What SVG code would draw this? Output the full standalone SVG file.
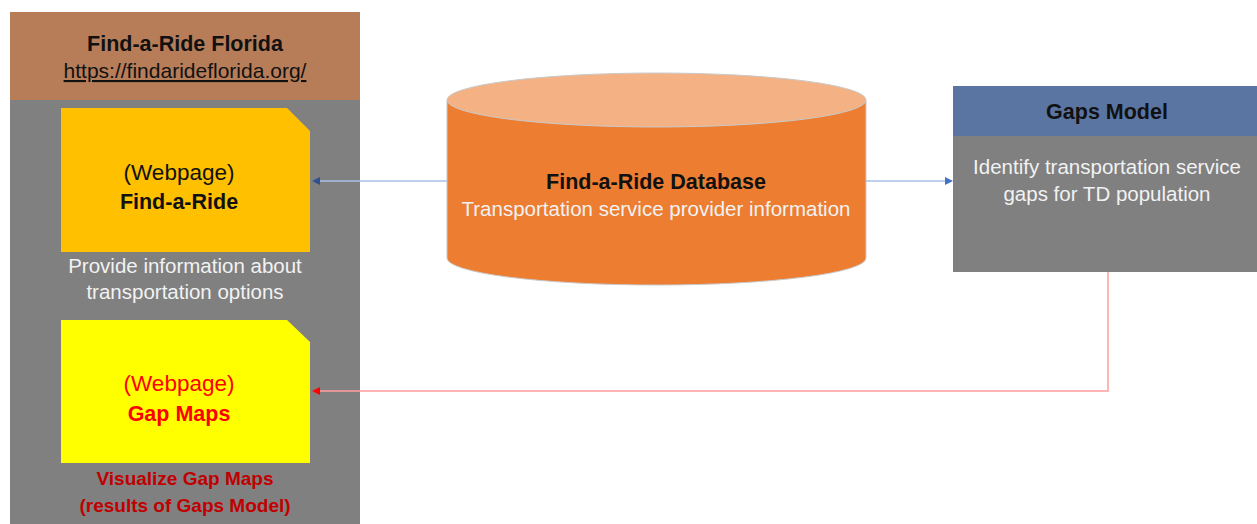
<svg xmlns="http://www.w3.org/2000/svg" width="1257" height="524" viewBox="0 0 1257 524">
<defs>
<style>
text{font-family:"Liberation Sans",Arial,sans-serif;text-anchor:middle}
.b{font-weight:bold}
.w{fill:#f2f2f2}
.k{fill:#111}
.r{fill:#ff0000}
.dr{fill:#c00000}
</style>
<marker id="ab" markerWidth="8" markerHeight="8" refX="7" refY="4" orient="auto" markerUnits="userSpaceOnUse"><path d="M0,0 L8,4 L0,8 z" fill="#2f4f8f"/></marker>
<marker id="ab2" markerWidth="8" markerHeight="8" refX="7" refY="4" orient="auto" markerUnits="userSpaceOnUse"><path d="M0,0 L8,4 L0,8 z" fill="#4472c4"/></marker>
<marker id="ar" markerWidth="8" markerHeight="8" refX="7" refY="4" orient="auto" markerUnits="userSpaceOnUse"><path d="M0,0 L8,4 L0,8 z" fill="#ff0000"/></marker>
</defs>
<rect width="1257" height="524" fill="#fff"/>
<g id="panel">
<rect x="10" y="12" width="350" height="88" fill="#b77c58"/>
<rect x="10" y="100" width="350" height="424" fill="#808080"/>
<text x="185" y="51" class="b k" font-size="21.5">Find-a-Ride Florida</text>
<text x="185" y="78" class="k" font-size="21" text-decoration="underline">https://findarideflorida.org/</text>
</g>
<g id="findaride">
<path d="M61,108 H287 L310,131 V252 H61 Z" fill="#ffc000"/>
<text x="179" y="180" class="k" font-size="22.5">(Webpage)</text>
<text x="179" y="209" class="b k" font-size="21.5">Find-a-Ride</text>
<text x="185" y="273" class="w" font-size="20.5">Provide information about</text>
<text x="185" y="299" class="w" font-size="20.5">transportation options</text>
</g>
<g id="gapmaps">
<path d="M61,320 H287 L310,342 V463 H61 Z" fill="#ffff00"/>
<text x="179" y="391" class="r" font-size="22.5">(Webpage)</text>
<text x="179" y="421" class="b r" font-size="21.5">Gap Maps</text>
<text x="185" y="485" class="b dr" font-size="19">Visualize Gap Maps</text>
<text x="185" y="512" class="b dr" font-size="19">(results of Gaps Model)</text>
</g>
<g id="database">
<path d="M447,100 V258 A209.5,27 0 0 0 866,258 V100 Z" fill="#ed7d31" stroke="#c9c9c9" stroke-width="1"/>
<ellipse cx="656.5" cy="100" rx="209.5" ry="27" fill="#f4b183" stroke="#c9c9c9" stroke-width="1"/>
<text x="656" y="189" class="b k" font-size="21.5">Find-a-Ride Database</text>
<text x="656" y="216" class="w" font-size="20.5">Transportation service provider information</text>
</g>
<g id="gapsmodel">
<rect x="953" y="86" width="304" height="50" fill="#5b75a3"/>
<rect x="953" y="136" width="304" height="136" fill="#808080"/>
<text x="1107" y="119" class="b k" font-size="21.5">Gaps Model</text>
<text x="1107" y="174" class="w" font-size="20.5">Identify transportation service</text>
<text x="1107" y="201" class="w" font-size="20.5">gaps for TD population</text>
</g>
<g id="connectors" fill="none">
<line x1="447" y1="181" x2="313" y2="181" stroke="#a9c1e6" stroke-width="1.5" marker-end="url(#ab)"/>
<line x1="866" y1="181" x2="952" y2="181" stroke="#a9c1e6" stroke-width="1.5" marker-end="url(#ab2)"/>
<polyline points="1108,272 1108,391 313,391" stroke="#ff9d9d" stroke-width="1.5" marker-end="url(#ar)"/>
</g>
</svg>
